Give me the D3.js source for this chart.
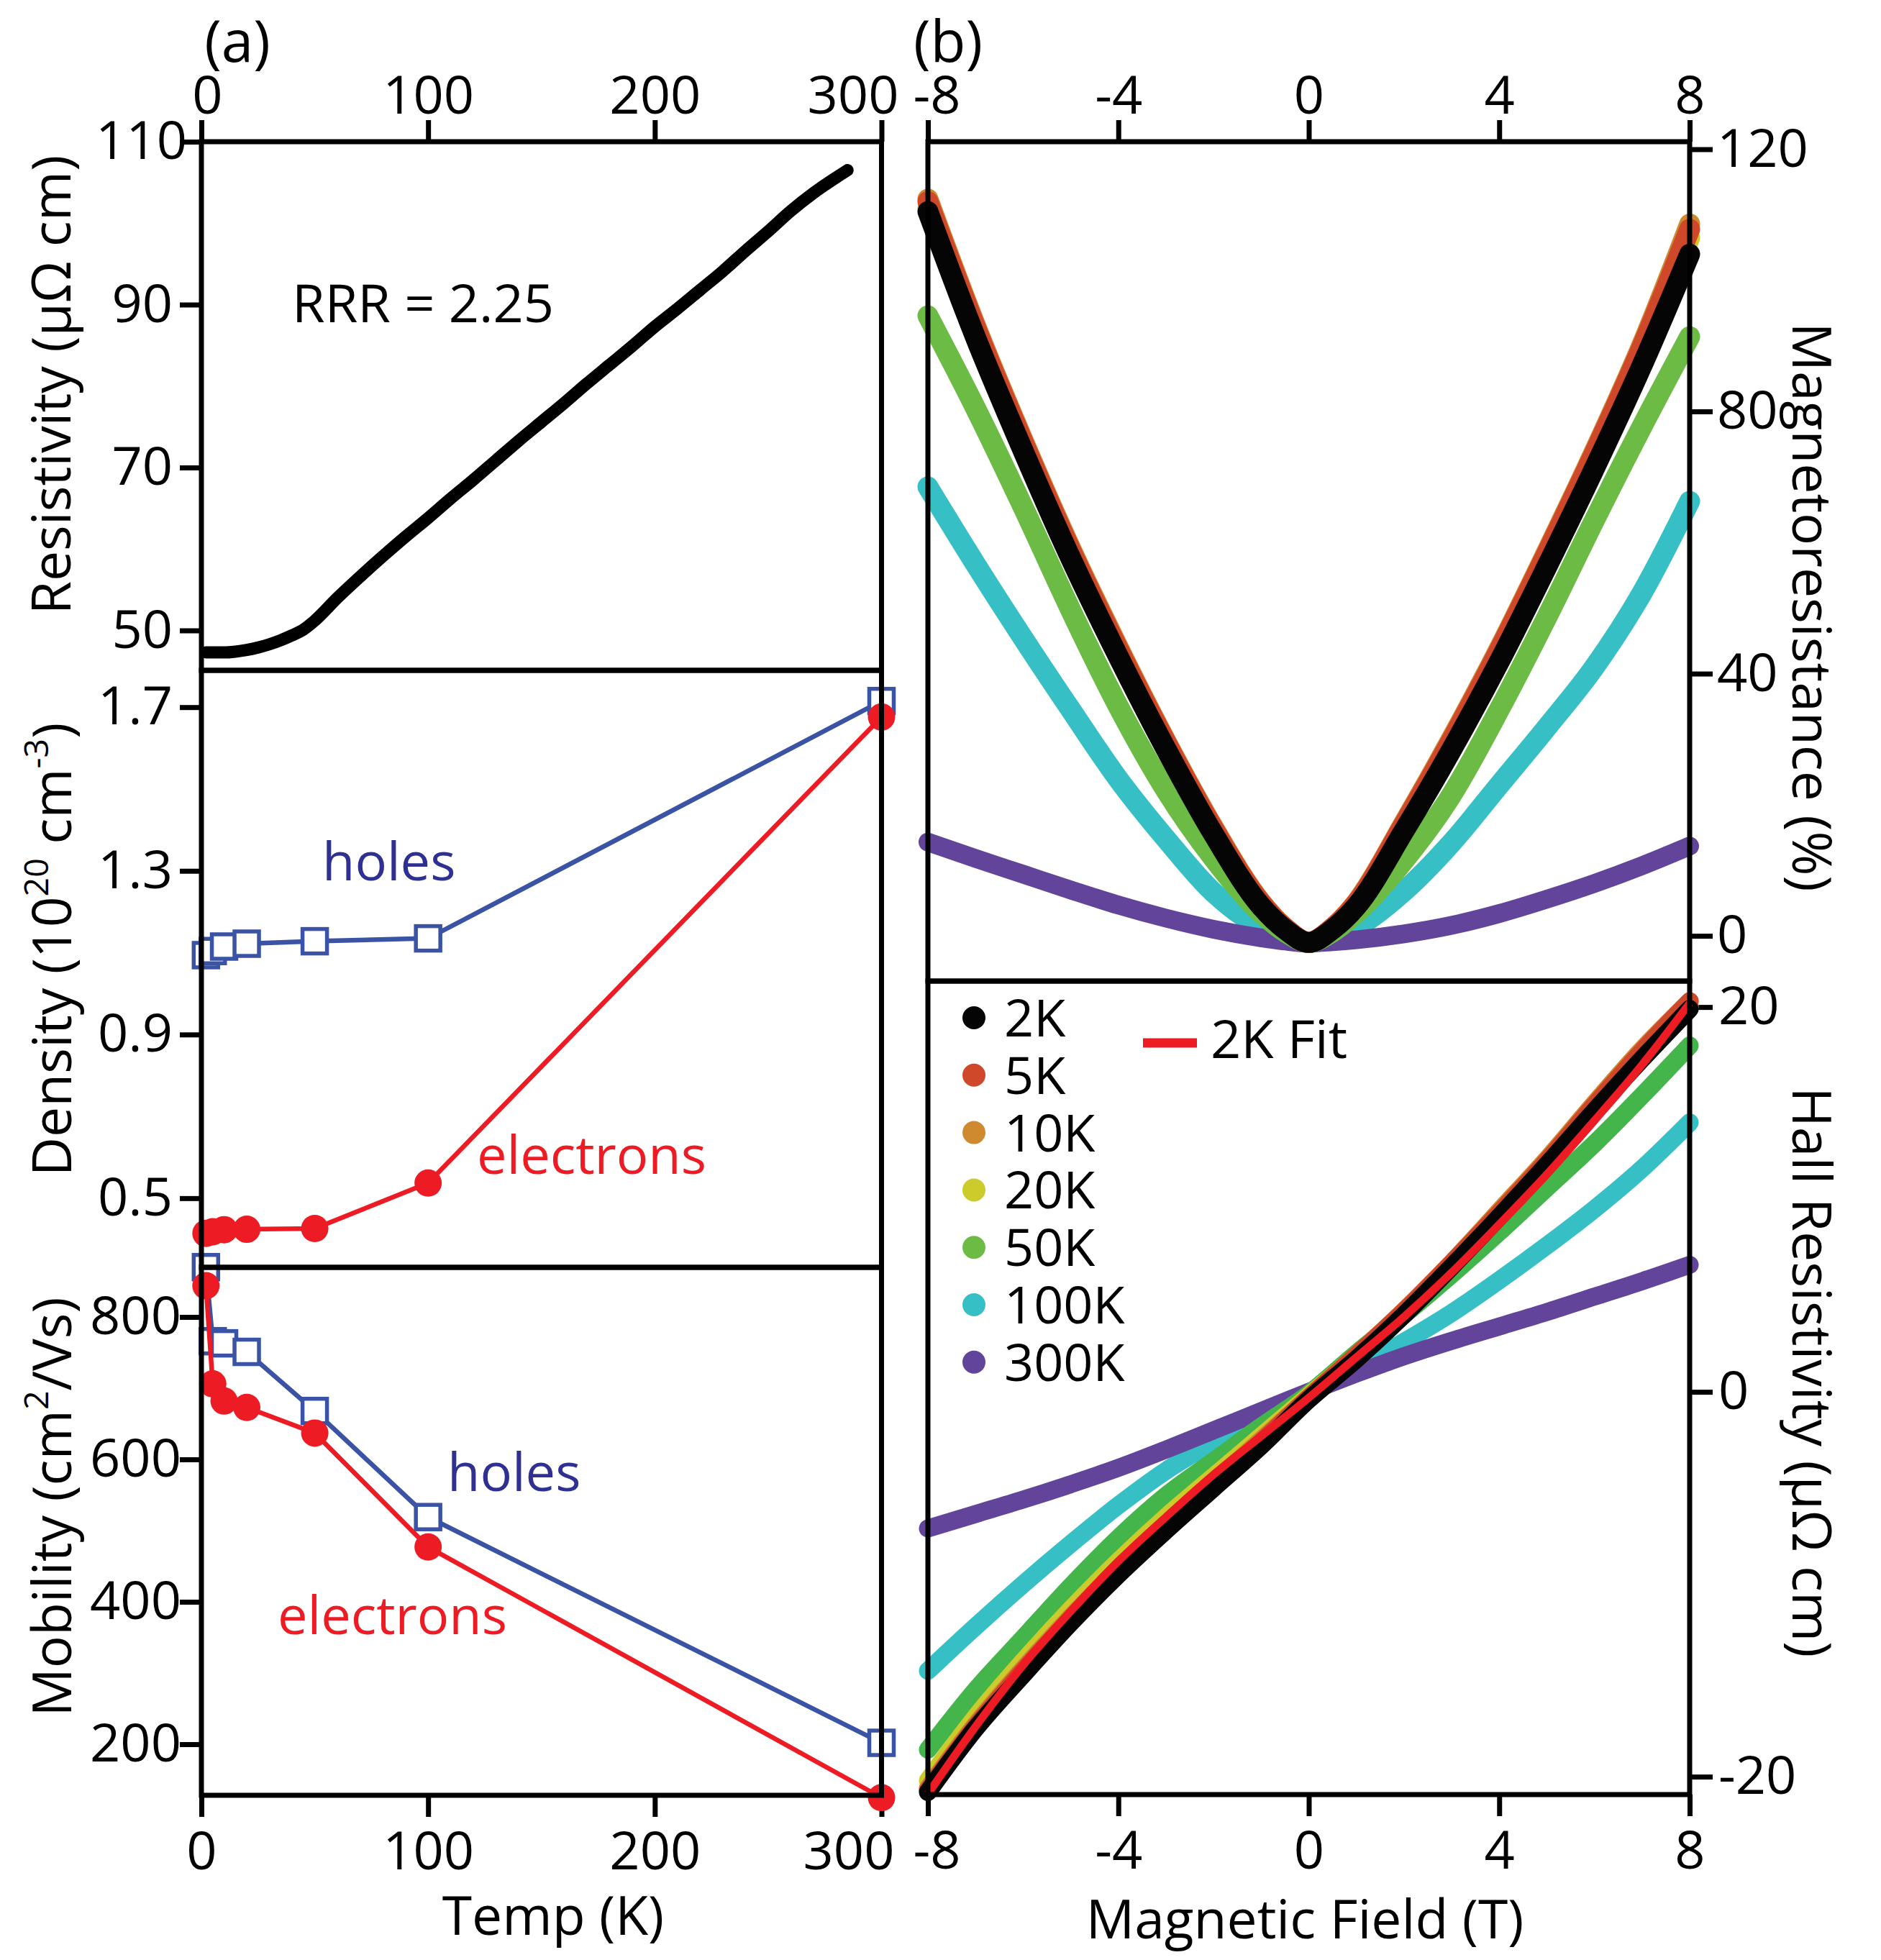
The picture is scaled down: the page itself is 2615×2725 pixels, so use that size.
<!DOCTYPE html>
<html lang="en">
<head>
<meta charset="UTF-8">
<title>Transport: resistivity, carriers, magnetoresistance and Hall</title>
<script src="https://d3js.org/d3.v7.min.js"></script>
<style>
  body { margin: 0; background: #fff; }
  svg text { font-family: 'Open Sans', sans-serif; }
</style>
</head>
<body>
<div id="chart"></div>
<script>
// ---- panel (a) data ----
const tempK = [2, 5, 10, 20, 50, 100, 300];
const holeDensity = [1.094, 1.104, 1.115, 1.122, 1.128, 1.135, 1.715];
const elecDensity = [0.414, 0.418, 0.423, 0.424, 0.426, 0.537, 1.676];
const holeMobility = [870, 766, 763, 751, 668, 519, 202];
const elecMobility = [844, 706, 682, 673, 637, 477, 125];

const rhoTemp = [2, 5, 10, 15, 20, 25, 30, 35, 40, 45, 50, 60, 70, 80, 90, 100, 110, 120, 130, 140,
  150, 160, 170, 180, 190, 200, 210, 220, 230, 240, 250, 260, 270, 280, 285];
const rhoValues = [47.3, 47.3, 47.3, 47.4, 47.6, 47.9, 48.3, 48.8, 49.4, 50.1, 51.2, 54.0, 56.6, 59.1,
  61.5, 63.8, 66.2, 68.5, 70.9, 73.3, 75.6, 77.9, 80.3, 82.6, 84.9, 87.3, 89.5, 91.8, 94.1, 96.6,
  99.0, 101.5, 103.7, 105.6, 106.5];

// ---- panel (b) data ----
const mrField = [-8, -7, -6, -5, -4, -3, -2, -1, -0.5, 0, 0.5, 1, 2, 3, 4, 5, 6, 7, 8];
const mr2K   = [110.5, 91.3, 74.0, 57.6, 42.6, 28.5, 15.5, 4.5, 1.0, -1.0, 1.0, 4.5, 16.0, 28.4, 41.8, 56.3, 71.3, 87.0, 104.0];
const mr5K   = [112.0, 92.8, 75.3, 58.8, 43.7, 29.5, 16.3, 5.0, 1.2, -1.0, 1.2, 5.0, 17.0, 29.8, 43.5, 58.3, 73.6, 89.8, 107.8];
const mr10K  = [112.4, 93.1, 75.6, 59.1, 44.0, 29.7, 16.5, 5.1, 1.2, -1.0, 1.2, 5.1, 17.2, 30.1, 43.8, 58.6, 73.9, 90.2, 108.6];
const mr20K  = [111.0, 91.8, 74.5, 58.0, 43.0, 28.9, 15.8, 4.7, 1.1, -1.0, 1.1, 4.8, 16.5, 29.1, 42.7, 57.3, 72.5, 88.5, 106.5];
const mr50K  = [94.6, 80.5, 65.4, 49.7, 35.0, 22.2, 11.8, 3.5, 0.6, -1.0, 0.6, 3.5, 11.5, 21.5, 34.5, 48.6, 63.4, 77.7, 91.4];
const mr100K = [68.5, 56.7, 45.4, 34.5, 23.9, 14.8, 6.6, 1.3, -0.3, -1.0, -0.3, 1.3, 6.8, 14.2, 23.0, 31.8, 41.0, 52.3, 66.3];
const mr300K = [14.3, 11.8, 9.4, 7.0, 4.7, 2.7, 1.0, -0.3, -0.8, -1.1, -0.9, -0.6, 0.3, 1.6, 3.4, 5.6, 8.0, 10.7, 13.7];

const hallField = [-8, -7, -6, -5, -4, -3, -2, -1, 0, 1, 2, 3, 4, 5, 6, 7, 8];
const hall2K   = [-20.8, -17.5, -14.7, -12.0, -9.5, -7.2, -5.0, -2.8, -0.4, 1.7, 4.0, 6.5, 9.1, 11.8, 14.6, 17.3, 19.9];
const hall5K   = [-20.7, -17.4, -14.5, -11.8, -9.3, -7.0, -4.8, -2.6, -0.3, 1.9, 4.2, 6.7, 9.3, 12.0, 14.9, 17.7, 20.3];
const hall10K  = [-20.6, -17.3, -14.4, -11.7, -9.2, -6.9, -4.7, -2.5, -0.3, 1.9, 4.2, 6.7, 9.4, 12.1, 15.0, 17.8, 20.3];
const hall20K  = [-20.2, -16.9, -14.0, -11.3, -8.8, -6.5, -4.4, -2.3, -0.2, 1.9, 4.2, 6.6, 9.2, 11.9, 14.7, 17.5, 20.0];
const hall50K  = [-18.6, -15.5, -12.8, -10.1, -7.6, -5.4, -3.6, -1.8, -0.1, 2.0, 4.0, 6.1, 8.3, 10.6, 12.9, 15.4, 18.0];
const hall100K = [-14.5, -12.2, -10.0, -7.9, -5.9, -4.1, -2.6, -1.2, -0.1, 1.2, 2.6, 4.1, 5.8, 7.6, 9.5, 11.6, 14.0];
const hall300K = [-7.1, -6.35, -5.6, -4.8, -3.95, -3.0, -2.0, -1.0, 0.0, 0.95, 1.85, 2.65, 3.4, 4.15, 4.95, 5.75, 6.6];
const hall2KFit = [-20.9, -17.4, -14.2, -11.4, -8.8, -6.5, -4.3, -2.3, -0.3, 1.8, 3.9, 6.2, 8.7, 11.3, 14.1, 17.0, 20.2];

const seriesLabels = ["2K", "5K", "10K", "20K", "50K", "100K", "300K"];

// ticks
const tempTicks = [0, 100, 200, 300];
const fieldTicks = [-8, -4, 0, 4, 8];
const rhoTicks = [50, 70, 90, 110];
const densityTicks = [0.5, 0.9, 1.3, 1.7];
const mobilityTicks = [200, 400, 600, 800];
const mrTicks = [0, 40, 80, 120];
const hallTicks = [-20, 0, 20];

// ---- layout ----
const W = 2615, H = 2725;
const FONT = 74;
const colors = {
  "2K": "#050505", "5K": "#d0482a", "10K": "#cf8a30", "20K": "#cbcc2b",
  "50K": "#6cbb45", "100K": "#36c0c5", "300K": "#62459b"
};
const hall50Color = "#43b54b";
const holeLine = "#3a53a4", holeText = "#2e3192", elecColor = "#ed1c24";

const svg = d3.select("#chart").append("svg")
  .attr("width", W).attr("height", H);

// scales
const xT = d3.scaleLinear().domain([0, 300]).range([280, 1225.5]);
const yRho = d3.scaleLinear().domain([45.1, 110]).range([932, 197]);
const yDen = d3.scaleLinear().domain([0.331, 1.79]).range([1762, 932]);
const yMob = d3.scaleLinear().domain([128.3, 869.7]).range([2496, 1762]);

const xB = d3.scaleLinear().domain([-8, 8]).range([1290, 2349]);
const yMR = d3.scaleLinear().domain([-6.9, 121.15]).range([1364, 197]);
const yHall = d3.scaleLinear().domain([-20.93, 21.35]).range([2495, 1364]);

function styleAxis(g) {
  g.select(".domain").remove();
  g.selectAll(".tick line").attr("stroke", "#000").attr("stroke-width", 7);
  g.selectAll(".tick text").attr("font-size", FONT).attr("fill", "#000");
}

function shiftLabel(g, value, dx) {
  g.selectAll(".tick").filter(d => d === value).select("text").attr("dx", dx);
}

const fmt = d => String(d);

// ---- panel (a) axes ----
const aTop = svg.append("g").attr("transform", `translate(0,${yRho.range()[1]})`)
  .call(d3.axisTop(xT).tickValues(tempTicks).tickFormat(fmt).tickSize(30).tickPadding(9));
styleAxis(aTop); shiftLabel(aTop, 300, -40); shiftLabel(aTop, 0, 8);

const aBottom = svg.append("g").attr("transform", `translate(0,${yMob.range()[0]})`)
  .call(d3.axisBottom(xT).tickValues(tempTicks).tickFormat(fmt).tickSize(30).tickPadding(20));
styleAxis(aBottom); shiftLabel(aBottom, 300, -46);

const rhoAxis = svg.append("g").attr("transform", `translate(${xT.range()[0]},0)`)
  .call(d3.axisLeft(yRho).tickValues(rhoTicks).tickFormat(fmt).tickSize(30).tickPadding(10));
styleAxis(rhoAxis); shiftLabel(rhoAxis, 110, 20);

const denAxis = svg.append("g").attr("transform", `translate(${xT.range()[0]},0)`)
  .call(d3.axisLeft(yDen).tickValues(densityTicks).tickFormat(d3.format(".1f")).tickSize(30).tickPadding(10));
styleAxis(denAxis);

const mobAxis = svg.append("g").attr("transform", `translate(${xT.range()[0]},0)`)
  .call(d3.axisLeft(yMob).tickValues(mobilityTicks).tickFormat(fmt).tickSize(30).tickPadding(-2));
styleAxis(mobAxis);

// ---- panel (b) axes ----
const bTop = svg.append("g").attr("transform", `translate(0,${yMR.range()[1]})`)
  .call(d3.axisTop(xB).tickValues(fieldTicks).tickFormat(fmt).tickSize(30).tickPadding(9));
styleAxis(bTop); shiftLabel(bTop, -8, 12);

const bBottom = svg.append("g").attr("transform", `translate(0,${yHall.range()[0]})`)
  .call(d3.axisBottom(xB).tickValues(fieldTicks).tickFormat(fmt).tickSize(30).tickPadding(20));
styleAxis(bBottom); shiftLabel(bBottom, -8, 12);

const mrAxis = svg.append("g").attr("transform", `translate(${xB.range()[1]},0)`)
  .call(d3.axisRight(yMR).tickValues(mrTicks).tickFormat(fmt).tickSize(32).tickPadding(6));
styleAxis(mrAxis);

const hallAxis = svg.append("g").attr("transform", `translate(${xB.range()[1]},0)`)
  .call(d3.axisRight(yHall).tickValues(hallTicks).tickFormat(fmt).tickSize(32).tickPadding(8));
styleAxis(hallAxis);

// ---- panel (a) marks ----
const rhoLine = d3.line().x(d => xT(d[0])).y(d => yRho(d[1])).curve(d3.curveMonotoneX);
svg.append("path")
  .attr("d", rhoLine(d3.zip(rhoTemp, rhoValues)))
  .attr("fill", "none").attr("stroke", "#000").attr("stroke-width", 17)
  .attr("stroke-linecap", "round").attr("stroke-linejoin", "round");

function carrierSeries(yScale, values, kind) {
  const pts = d3.zip(tempK, values);
  const line = d3.line().x(d => xT(d[0])).y(d => yScale(d[1]));
  const col = kind === "hole" ? holeLine : elecColor;
  svg.append("path").attr("d", line(pts))
    .attr("fill", "none").attr("stroke", col).attr("stroke-width", 6.5);
  if (kind === "hole") {
    const s = 34;
    svg.append("g").selectAll("rect").data(pts).join("rect")
      .attr("x", d => xT(d[0]) - s / 2).attr("y", d => yScale(d[1]) - s / 2)
      .attr("width", s).attr("height", s)
      .attr("fill", "#fff").attr("stroke", col).attr("stroke-width", 5.5);
  } else {
    svg.append("g").selectAll("circle").data(pts).join("circle")
      .attr("cx", d => xT(d[0])).attr("cy", d => yScale(d[1]))
      .attr("r", 19).attr("fill", col);
  }
}
carrierSeries(yDen, holeDensity, "hole");
carrierSeries(yDen, elecDensity, "elec");
carrierSeries(yMob, holeMobility, "hole");
carrierSeries(yMob, elecMobility, "elec");

// ---- panel (b) marks ----
const mrSeries = [
  ["100K", mr100K], ["300K", mr300K], ["50K", mr50K], ["20K", mr20K],
  ["10K", mr10K], ["5K", mr5K], ["2K", mr2K]
];
const mrLine = d3.line().x(d => xB(d[0])).y(d => yMR(d[1])).curve(d3.curveMonotoneX);
svg.append("g").selectAll("path").data(mrSeries).join("path")
  .attr("d", d => mrLine(d3.zip(mrField, d[1])))
  .attr("fill", "none").attr("stroke", d => colors[d[0]])
  .attr("stroke-width", d => d[0] === "300K" ? 26 : 29)
  .attr("stroke-linecap", "round").attr("stroke-linejoin", "round");

const hallSeries = [
  ["100K", hall100K], ["300K", hall300K], ["50K", hall50K], ["20K", hall20K],
  ["10K", hall10K], ["5K", hall5K], ["2K", hall2K]
];
const hallLine = d3.line().x(d => xB(d[0])).y(d => yHall(d[1])).curve(d3.curveMonotoneX);
svg.append("g").selectAll("path").data(hallSeries).join("path")
  .attr("d", d => hallLine(d3.zip(hallField, d[1])))
  .attr("fill", "none").attr("stroke", d => d[0] === "50K" ? hall50Color : colors[d[0]])
  .attr("stroke-width", 25)
  .attr("stroke-linecap", "round").attr("stroke-linejoin", "round");

svg.append("path")
  .attr("d", hallLine(d3.zip(hallField, hall2KFit)))
  .attr("fill", "none").attr("stroke", elecColor).attr("stroke-width", 11);

// ---- frames ----
function frame(xs, ys) {
  svg.append("rect")
    .attr("x", xs.range()[0]).attr("y", ys.range()[1])
    .attr("width", xs.range()[1] - xs.range()[0])
    .attr("height", ys.range()[0] - ys.range()[1])
    .attr("fill", "none").attr("stroke", "#000").attr("stroke-width", 7);
}
frame(xT, yRho); frame(xT, yDen); frame(xT, yMob);
frame(xB, yMR); frame(xB, yHall);

// ---- legend ----
const legend = svg.append("g").attr("transform", "translate(1354,1415)");
const lg = legend.selectAll("g").data(seriesLabels).join("g")
  .attr("transform", (d, i) => `translate(0,${i * 79.8})`);
lg.append("circle").attr("r", 16).attr("fill", d => colors[d]);
lg.append("text").attr("x", 42).attr("y", 26)
  .attr("font-size", 72).text(d => d);
legend.append("line").attr("x1", 235).attr("x2", 310).attr("y1", 35).attr("y2", 35)
  .attr("stroke", elecColor).attr("stroke-width", 13);
legend.append("text").attr("x", 329).attr("y", 56).attr("font-size", FONT).text("2K Fit");

// ---- text ----
function label(x, y, txt, opts = {}) {
  const t = svg.append("text")
    .attr("transform", `translate(${x},${y})` + (opts.rotate ? ` rotate(${opts.rotate})` : ""))
    .attr("font-size", opts.size || FONT)
    .attr("text-anchor", opts.anchor || "start")
    .attr("fill", opts.color || "#000");
  if (Array.isArray(txt)) {
    txt.forEach(p => {
      const s = t.append("tspan").text(p.t);
      if (p.sup) s.attr("font-size", (opts.size || FONT) * 0.62).attr("baseline-shift", "super");
    });
  } else {
    t.text(txt);
  }
  return t;
}

label(330, 86, "(a)", { anchor: "middle", size: 80 });
label(1318, 86, "(b)", { anchor: "middle", size: 80 });

label(406, 448, "RRR = 2.25");
label(448, 1224, "holes", { color: holeText });
label(663, 1632, "electrons", { color: elecColor });
label(622, 2073, "holes", { color: holeText });
label(386, 2272, "electrons", { color: elecColor });

label(98, 535, "Resistivity (μΩ cm)", { anchor: "middle", rotate: -90, size: 75 });
label(99, 1320, [{ t: "Density (10" }, { t: "20", sup: true }, { t: " cm" }, { t: "-3", sup: true }, { t: ")" }],
  { anchor: "middle", rotate: -90, size: 75 });
label(99, 2095, [{ t: "Mobility (cm" }, { t: "2", sup: true }, { t: "/Vs)" }],
  { anchor: "middle", rotate: -90, size: 75 });
label(769, 2690, "Temp (K)", { anchor: "middle", size: 75 });

label(1814, 2695, "Magnetic Field (T)", { anchor: "middle", size: 75 });
label(2492, 844, "Magnetoresistance (%)", { anchor: "middle", rotate: 90, size: 75 });
label(2492, 1908, "Hall Resistivity (μΩ cm)", { anchor: "middle", rotate: 90, size: 75 });
</script>
</body>
</html>
